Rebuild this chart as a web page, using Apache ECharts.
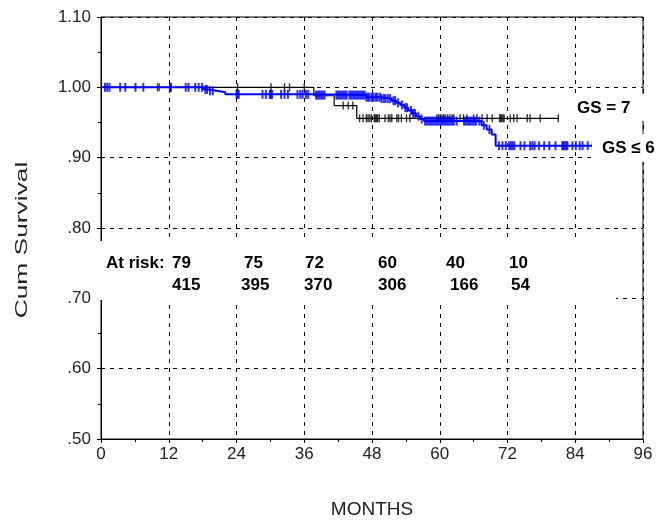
<!DOCTYPE html>
<html>
<head>
<meta charset="utf-8">
<script src="https://cdn.jsdelivr.net/npm/echarts@6/dist/echarts.min.js"></script>
<style>
  html, body { margin: 0; padding: 0; background: #fff; }
  #chart { width: 659px; height: 520px; }
</style>
</head>
<body>
<div id="chart"></div>
<script>
// step points of the two Kaplan-Meier curves (months, cum survival)
const gs7Times = [0, 37.7, 41.3, 45.3, 81.1];
const gs7Surv = [1.0, 0.988, 0.974, 0.956, 0.956];
const gs6Times = [0, 18.2, 19.0, 20.5, 22.0, 37.8, 47.0, 49.5, 51.5, 52.3, 53.0, 53.7, 54.4, 55.1, 55.8, 56.5, 57.2, 67.4, 68.3, 69.2, 69.9, 87.1];
const gs6Surv = [1.0, 0.997, 0.995, 0.993, 0.990, 0.989, 0.986, 0.984, 0.981, 0.978, 0.975, 0.971, 0.967, 0.963, 0.959, 0.955, 0.952, 0.946, 0.940, 0.933, 0.917, 0.917];

// censored observations (months)
const gs7Censor = [10.0, 10.3, 24.2, 30.1, 32.5, 33.4, 36.0, 42.9, 43.8, 44.6, 45.8, 46.4, 47.0, 47.3, 47.6, 47.9,
  48.4, 48.6, 48.8, 49.0, 49.3, 50.3, 50.9, 51.2, 51.5, 52.4, 52.7, 53.2, 54.1, 54.7, 59.5, 59.8, 60.1, 60.4, 60.7,
  61.0, 61.4, 61.8, 62.2, 62.5, 63.6, 64.2, 64.8, 66.0, 66.6, 67.5, 68.4, 69.3, 70.6, 70.8, 71.0, 71.2, 71.4,
  72.5, 73.1, 73.7, 75.5, 76.0, 77.8, 81.0];
const gs6Censor = [0.7, 1.1, 1.5, 3.4, 4.3, 6.1, 7.5, 12.2, 12.4, 15.0, 15.5, 16.7, 17.3, 17.9, 18.5, 18.8, 19.3, 19.8,
  24.0, 24.2, 24.4, 28.6, 29.2, 29.9, 30.1, 30.3, 31.9, 32.5, 33.1, 34.8, 35.3, 35.7, 36.3, 36.7, 38.1, 38.4, 38.7,
  39.0, 39.3, 39.6, 41.7, 42.0, 42.3, 42.6, 42.9, 43.2, 43.5, 44.0, 44.3, 44.6, 44.9, 45.2, 45.5, 45.8, 46.1, 46.4,
  46.7, 47.0, 47.3, 47.6, 48.0, 48.3, 48.7, 49.0, 49.4, 49.7, 50.1, 50.4, 50.8, 51.2, 51.8, 52.1, 52.6, 53.3, 53.9,
  54.2, 54.9, 55.3, 55.6, 56.2, 56.8, 57.4, 57.7, 58.0, 58.3, 58.6, 58.9, 59.2, 59.5, 59.8, 60.1, 60.4, 60.7, 61.0,
  61.3, 61.6, 61.9, 62.2, 62.5, 63.0, 64.3, 64.6, 64.9, 65.2, 65.5, 65.8, 66.1, 66.4, 67.0, 67.8, 68.8, 70.5, 71.1,
  71.7, 72.3, 72.6, 72.9, 73.2, 74.3, 75.0, 76.0, 76.4, 76.8, 77.6, 78.5, 79.4, 80.5, 81.7, 81.9, 82.1, 82.4, 82.6,
  83.5, 84.1, 84.8, 85.3, 86.2, 87.1];

// numbers at risk
const atRiskGs7 = [79, 75, 72, 60, 40, 10];
const atRiskGs6 = [415, 395, 370, 306, 166, 54];

// axis ticks
const xTicks = [0, 12, 24, 36, 48, 60, 72, 84, 96];
const yTicks = [0.5, 0.6, 0.7, 0.8, 0.9, 1.0, 1.1];

// layout of the at-risk table (pixels), kept apart from the data
const riskRow1X = [172, 244, 305, 378, 446, 509];
const riskRow2X = [172, 241, 304, 378, 450, 511];

function survAt(times, surv, t) {
    let s = surv[0];
    for (let i = 0; i < times.length; i++) {
        if (times[i] <= t) s = surv[i];
    }
    return s;
}

const chart = echarts.init(document.getElementById('chart'));

const labelFont = 'Liberation Sans, Arial, sans-serif';
const boldFont = 'bold 17px Liberation Sans, Arial, sans-serif';

let graphics = [
    {type: 'rect', z: 100, shape: {x: 95, y: 241, width: 521, height: 59}, style: {fill: '#fff'}},
    {type: 'rect', z: 100, shape: {x: 568, y: 94, width: 88, height: 27}, style: {fill: '#fff'}},
    {type: 'rect', z: 100, shape: {x: 592, y: 134, width: 67, height: 28}, style: {fill: '#fff'}},
    {type: 'text', z: 101, x: 577, y: 108, style: {text: 'GS = 7', font: boldFont, fill: '#000', textVerticalAlign: 'middle'}},
    {type: 'text', z: 101, x: 602, y: 148, style: {text: 'GS ≤ 6', font: boldFont, fill: '#000', textVerticalAlign: 'middle'}},
    {type: 'text', z: 101, x: 106, y: 263, style: {text: 'At risk:', font: boldFont, fill: '#000', textVerticalAlign: 'middle'}},
    // y axis title, stretched to the long spacing of the original
    {type: 'text', z: 101, x: 22, y: 240, rotation: Math.PI / 2, scaleX: 1.55,
        style: {text: 'Cum Survival', font: '17px ' + labelFont, fill: '#222', textAlign: 'center', textVerticalAlign: 'middle'}}
];
atRiskGs7.forEach((n, i) => {
    graphics.push({type: 'text', z: 101, x: riskRow1X[i], y: 263,
        style: {text: String(n), font: boldFont, fill: '#000', textVerticalAlign: 'middle'}});
});
atRiskGs6.forEach((n, i) => {
    graphics.push({type: 'text', z: 101, x: riskRow2X[i], y: 285,
        style: {text: String(n), font: boldFont, fill: '#000', textVerticalAlign: 'middle'}});
});

const gridDash = {color: '#000', width: 1, type: [4, 5]};

let option = {
    animation: false,
    backgroundColor: '#fff',
    grid: {
        left: 101, right: 16, top: 17, bottom: 81,
        outerBoundsMode: 'none', containLabel: false,
        show: true, borderColor: '#000', borderWidth: 1
    },
    xAxis: {
        type: 'value',
        min: xTicks[0],
        max: xTicks[xTicks.length - 1],
        interval: 12,
        name: 'MONTHS',
        nameLocation: 'middle',
        nameGap: 61,
        nameTextStyle: {fontFamily: labelFont, fontSize: 19, color: '#222'},
        axisLine: {lineStyle: {color: '#000', width: 1}},
        axisTick: {show: true, length: 4, lineStyle: {color: '#000'}},
        minorTick: {show: true, splitNumber: 2, length: 3, lineStyle: {color: '#000'}},
        axisLabel: {fontFamily: labelFont, fontSize: 17, color: '#222', margin: 7},
        splitLine: {show: true, lineStyle: gridDash}
    },
    yAxis: {
        type: 'value',
        min: yTicks[0],
        max: yTicks[yTicks.length - 1],
        interval: 0.1,
        axisLine: {show: true, lineStyle: {color: '#000', width: 1}},
        axisTick: {show: true, length: 4, lineStyle: {color: '#000'}},
        minorTick: {show: true, splitNumber: 2, length: 3, lineStyle: {color: '#000'}},
        axisLabel: {
            fontFamily: labelFont, fontSize: 17, color: '#222', margin: 10,
            formatter: (v) => {
                let s = v.toFixed(2);
                return v < 1 ? s.slice(1) : s;
            }
        },
        splitLine: {show: true, lineStyle: gridDash}
    },
    graphic: graphics,
    series: [
        {
            name: 'GS = 7', type: 'line', step: 'end', showSymbol: false,
            data: gs7Times.map((t, i) => [t, gs7Surv[i]]),
            lineStyle: {color: '#000', width: 1.2}, z: 3
        },
        {
            name: 'GS ≤ 6', type: 'line', step: 'end', showSymbol: false,
            data: gs6Times.map((t, i) => [t, gs6Surv[i]]),
            lineStyle: {color: '#0000ff', width: 2}, z: 4
        },
        {
            name: 'GS = 7 censored', type: 'scatter', symbol: 'rect', symbolSize: [1.4, 8],
            data: gs7Censor.map(t => [t, survAt(gs7Times, gs7Surv, t)]),
            itemStyle: {color: '#000'}, z: 3
        },
        {
            name: 'GS ≤ 6 censored', type: 'scatter', symbol: 'rect', symbolSize: [2, 9],
            data: gs6Censor.map(t => [t, survAt(gs6Times, gs6Surv, t)]),
            itemStyle: {color: '#0000ff'}, z: 5
        }
    ]
};
chart.setOption(option);
</script>
</body>
</html>
